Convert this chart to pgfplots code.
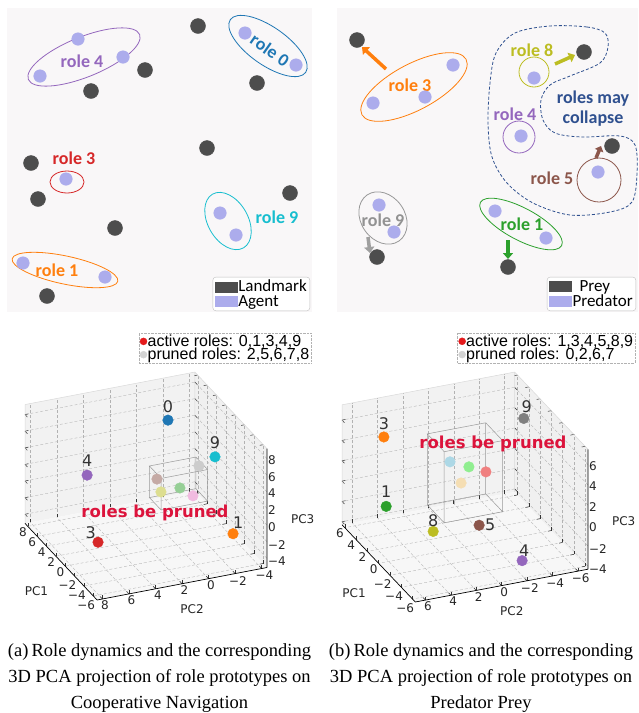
\documentclass[border=0pt]{standalone}
\usepackage{pgfplots}
\pgfplotsset{compat=1.18}
\usepackage{fontspec}
\setmainfont{Liberation Serif}
\newfontfamily\carlito{Carlito}
\newfontfamily\dejavu{DejaVu Sans}
\newfontfamily\arialf{Liberation Sans}
\usetikzlibrary{arrows.meta}

\definecolor{panelbg}{RGB}{249,247,248}
\definecolor{landmark}{RGB}{77,77,77}
\definecolor{agent}{RGB}{172,172,236}
\definecolor{tblue}{RGB}{31,119,180}
\definecolor{torange}{RGB}{255,127,14}
\definecolor{tgreen}{RGB}{44,160,44}
\definecolor{tred}{RGB}{214,39,40}
\definecolor{tpurple}{RGB}{148,103,189}
\definecolor{tbrown}{RGB}{140,86,75}
\definecolor{tpink}{RGB}{227,119,194}
\definecolor{tgray}{RGB}{127,127,127}
\definecolor{tolive}{RGB}{188,189,34}
\definecolor{tcyan}{RGB}{23,190,207}
\definecolor{navyd}{RGB}{47,80,143}
\definecolor{crimsonc}{RGB}{220,20,60}
\definecolor{lblue}{RGB}{173,216,230}
\definecolor{lgreen}{RGB}{144,238,144}
\definecolor{lcoral}{RGB}{240,128,128}
\definecolor{wheatc}{RGB}{245,222,179}
\definecolor{activered}{RGB}{228,26,28}
\definecolor{prunedgray}{RGB}{211,211,211}
\definecolor{txt}{RGB}{51,51,51}

\newcommand{\rolefont}{\carlito\bfseries\fontsize{18bp}{20bp}\selectfont}
\newcommand{\legfont}{\carlito\fontsize{17bp}{18bp}\selectfont}
\newcommand{\tickfont}{\dejavu\fontsize{12bp}{13bp}\selectfont}
\newcommand{\numfont}{\dejavu\fontsize{16bp}{17bp}\selectfont}
\newcommand{\prunefont}{\dejavu\bfseries\fontsize{16.5bp}{18bp}\selectfont}
\newcommand{\pcalegfont}{\arialf\fontsize{16bp}{17bp}\selectfont}
\newcommand{\capfont}{\fontsize{18.5bp}{26bp}\selectfont}

\newcommand{\wirebox}[6]{%
 \draw[black!40, line width=0.5bp]
  (axis cs:#1,#3,#5) -- (axis cs:#2,#3,#5) -- (axis cs:#2,#4,#5) -- (axis cs:#1,#4,#5) -- cycle
  (axis cs:#1,#3,#6) -- (axis cs:#2,#3,#6) -- (axis cs:#2,#4,#6) -- (axis cs:#1,#4,#6) -- cycle
  (axis cs:#1,#3,#5) -- (axis cs:#1,#3,#6) (axis cs:#2,#3,#5) -- (axis cs:#2,#3,#6)
  (axis cs:#2,#4,#5) -- (axis cs:#2,#4,#6) (axis cs:#1,#4,#5) -- (axis cs:#1,#4,#6);}

\pgfplotsset{
  toppanel/.style={
    scale only axis, height=304bp,
    y dir=reverse, axis lines=none, clip=false,
    ymin=8, ymax=312,
    legend cell align=left,
    legend style={draw=black!25, rounded corners=3bp, fill=white, font=\legfont,
      inner sep=2bp, nodes={inner sep=1bp}, row sep=0bp},
  },
  landmarks/.style={only marks, mark=*, mark size=7.5bp, color=landmark},
  agents/.style={only marks, mark=*, mark size=6.3bp, color=agent},
  pcabase/.style={
    scale only axis, view={247}{35}, clip=false, set layers,
    grid=major, major grid style={densely dashed, black!30, line width=0.35bp},
    axis line style={draw=none},
    tick style={black!80, line width=0.5bp}, major tick length=3.5bp,
    xtick pos=left, ytick pos=left, ztick pos=right,
    ticklabel style={font=\tickfont, text=black!85, inner sep=1bp},
    label style={font=\tickfont, text=black!85},
    every axis z label/.style={at={(ticklabel cs:0.5)}, anchor=near ticklabel,
      font=\tickfont, text=black!85},
    xlabel={PC1}, ylabel={PC2}, zlabel={PC3},
    zticklabel pos=right,
    legend cell align=left,
    legend style={draw=black!30, densely dotted, fill=white, font=\pcalegfont,
      inner sep=1bp, nodes={inner sep=0.6bp}, row sep=-1bp},
    every node near coord/.append style={font=\numfont, text=txt, inner sep=0pt},
  },
  pt/.style={only marks, mark=*, mark size=5.3bp, color=#1},
  pane/.style={draw=none, fill=#1, forget plot, on layer=axis background},
}

\begin{document}
\begin{tikzpicture}

% ---------------- top-left: Cooperative Navigation ----------------
\begin{axis}[toppanel, at={(7bp,-8bp)}, anchor=north west, width=305bp, xmin=7, xmax=312,
  legend style={at={(axis cs:310,311)}, anchor=south east}]
\fill[panelbg] (rel axis cs:0,0) rectangle (rel axis cs:1,1);
\addplot[landmarks, legend image code/.code={\fill[landmark,sharp corners] (0bp,-5bp) rectangle (22bp,5bp);}]
  coordinates {(198,26) (145,70) (91,91) (257,83) (207,148) (31,163) (38,199) (115,228) (290,193) (47,296)};
\addlegendentry{Landmark}
\addplot[agents, legend image code/.code={\fill[agent,sharp corners] (0bp,-5bp) rectangle (22bp,5bp);}]
  coordinates {(78,39) (123,57) (40,76) (245,33) (296,65) (66,179) (220,213) (236,235) (23,263) (105,277)};
\addlegendentry{Agent}
\draw[tpurple, line width=0.8bp, rotate around={22:(axis cs:84,57)}] (axis cs:84,57) ellipse [x radius=60bp, y radius=20bp];
\draw[tblue, line width=0.8bp, rotate around={-35:(axis cs:268,46)}] (axis cs:268,46) ellipse [x radius=46bp, y radius=19bp];
\draw[tred, line width=0.8bp] (axis cs:67,182) ellipse [x radius=17bp, y radius=11bp];
\draw[tcyan, line width=0.8bp, rotate around={-60:(axis cs:228,221)}] (axis cs:228,221) ellipse [x radius=31bp, y radius=20bp];
\draw[torange, line width=0.8bp, rotate around={-12:(axis cs:65,270)}] (axis cs:65,270) ellipse [x radius=54bp, y radius=14bp];
\node[font=\rolefont, text=tpurple] at (axis cs:82,61) {role 4};
\node[font=\rolefont, text=tblue, rotate=-35, inner sep=0pt] at (axis cs:270,50) {role 0};
\node[font=\rolefont, text=tred] at (axis cs:74,158) {role 3};
\node[font=\rolefont, text=tcyan] at (axis cs:277,217) {role 9};
\node[font=\rolefont, text=torange] at (axis cs:57,270) {role 1};
\end{axis}

% ---------------- top-right: Predator Prey ----------------
\begin{axis}[toppanel, at={(337bp,-8bp)}, anchor=north west, width=301bp, xmin=337, xmax=638,
  legend style={at={(axis cs:636,311)}, anchor=south east}]
\fill[panelbg] (rel axis cs:0,0) rectangle (rel axis cs:1,1);
\addplot[landmarks, legend image code/.code={\fill[landmark,sharp corners] (0bp,-5bp) rectangle (22bp,5bp);}]
  coordinates {(357,40) (584,52) (612,146) (377,257) (508,267)};
\addlegendentry{\hspace{7bp}Prey}
\addplot[agents, legend image code/.code={\fill[agent,sharp corners] (0bp,-5bp) rectangle (22bp,5bp);}]
  coordinates {(453,65) (425,97) (373,103) (534,78) (521,136) (598,172) (379,205) (394,232) (495,211) (546,238)};
\addlegendentry{Predator}
\draw[navyd, line width=0.8bp, dash pattern=on 3bp off 2bp] plot[smooth cycle, tension=0.55] coordinates {
  (axis cs:550,26) (axis cs:587,27) (axis cs:605,33) (axis cs:608,47) (axis cs:600,63) (axis cs:570,76)
  (axis cs:550,85) (axis cs:541,100) (axis cs:543,120) (axis cs:555,133) (axis cs:582,137) (axis cs:620,136)
  (axis cs:635,145) (axis cs:637,173) (axis cs:632,202) (axis cs:610,212) (axis cs:570,215) (axis cs:533,203)
  (axis cs:507,183) (axis cs:492,157) (axis cs:488,123) (axis cs:490,83) (axis cs:496,53) (axis cs:515,33)};
\draw[torange, line width=0.8bp, rotate around={28:(axis cs:414,87)}] (axis cs:414,87) ellipse [x radius=59bp, y radius=23bp];
\draw[tolive, line width=0.8bp] (axis cs:534,72) circle [radius=15bp];
\draw[tpurple, line width=0.8bp] (axis cs:519,137) circle [radius=16bp];
\draw[tbrown, line width=0.8bp] (axis cs:599,180) circle [radius=22bp];
\draw[tgray!80, line width=0.8bp, rotate around={-55:(axis cs:383,218)}] (axis cs:383,218) ellipse [x radius=28bp, y radius=22bp];
\draw[tgreen, line width=0.8bp, rotate around={-28:(axis cs:521,224)}] (axis cs:521,224) ellipse [x radius=46bp, y radius=16bp];
\draw[torange, line width=3.5bp, -{Triangle[length=6bp, width=10bp]}] (axis cs:386,69) -- (axis cs:362,47);
\draw[tolive, line width=3.5bp, -{Triangle[length=6bp, width=10bp]}] (axis cs:555,64) -- (axis cs:575,55);
\draw[tbrown, line width=3.5bp, -{Triangle[length=5bp, width=9bp]}] (axis cs:596,158) -- (axis cs:601,146);
\draw[tgray!75, line width=3.5bp, -{Triangle[length=6bp, width=10bp]}] (axis cs:368,237) -- (axis cs:370,253);
\draw[tgreen, line width=3.5bp, -{Triangle[length=6bp, width=10bp]}] (axis cs:508,240) -- (axis cs:508,259);
\node[font=\rolefont, text=torange] at (axis cs:410,85) {role 3};
\node[font=\rolefont, text=tolive] at (axis cs:532,50) {role 8};
\node[font=\rolefont, text=tpurple] at (axis cs:515,114) {role 4};
\node[font=\rolefont, text=navyd, align=center] at (axis cs:593,109) {roles may\\collapse};
\node[font=\rolefont, text=tbrown] at (axis cs:552,178) {role 5};
\node[font=\rolefont, text=tgray!85] at (axis cs:383,220) {role 9};
\node[font=\rolefont, text=tgreen] at (axis cs:522,224) {role 1};
\end{axis}

% ---------------- bottom-left: PCA (Cooperative Navigation) ----------------
\begin{axis}[pcabase, at={(25bp,-600bp)}, anchor=south west, width=242bp, height=228bp,
  xmin=-6.8, xmax=8.6, ymin=-4.4, ymax=8.4, zmin=-5.1, zmax=9.2,
  xtick={-6,-4,...,8}, xticklabels={−6,−4,−2,0,2,4,6,8},
  ytick={-4,-2,...,8}, yticklabels={−4,−2,0,2,4,6,8},
  ztick={-4,-2,...,8}, zticklabels={−4,−2,0,2,4,6,8},
  legend style={at={(axis description cs:1.182,1.171)}, anchor=north east}]
\addlegendimage{only marks, mark=*, mark size=3.5bp, activered, mark options={solid}}
\addlegendentry{active roles: 0,1,3,4,9}
\addlegendimage{only marks, mark=*, mark size=3.5bp, prunedgray, mark options={solid}}
\addlegendentry{pruned roles: 2,5,6,7,8}
\addplot3[pane=black!5] coordinates {(8.6,-4.4,-5.1) (8.6,8.4,-5.1) (8.6,8.4,9.2) (8.6,-4.4,9.2) (8.6,-4.4,-5.1)};
\addplot3[pane=black!6] coordinates {(-6.8,-4.4,-5.1) (8.6,-4.4,-5.1) (8.6,-4.4,9.2) (-6.8,-4.4,9.2) (-6.8,-4.4,-5.1)};
\addplot3[pane=black!3] coordinates {(-6.8,-4.4,-5.1) (8.6,-4.4,-5.1) (8.6,8.4,-5.1) (-6.8,8.4,-5.1) (-6.8,-4.4,-5.1)};
\draw[black!15, line width=0.5bp] (axis cs:8.6,8.4,-5.1) -- (axis cs:8.6,8.4,9.2) -- (axis cs:8.6,-4.4,9.2) -- (axis cs:-6.8,-4.4,9.2)
  (axis cs:8.6,-4.4,-5.1) -- (axis cs:8.6,-4.4,9.2);
\draw[black, line width=0.7bp] (axis cs:-6.8,8.4,-5.1) -- (axis cs:8.6,8.4,-5.1)
  (axis cs:-6.8,-4.4,-5.1) -- (axis cs:-6.8,8.4,-5.1) (axis cs:-6.8,-4.4,-5.1) -- (axis cs:-6.8,-4.4,9.2);
\wirebox{0.5}{3}{-2.5}{1.0}{-0.9}{2.9}
\addplot3[pt=tgray!40] coordinates {(1.67,-2.26,2.71)};
\addplot3[pt=tbrown!50] coordinates {(1.67,0.90,2.09)};
\addplot3[pt=tolive!50] coordinates {(1.67,0.60,0.45)};
\addplot3[pt=tgreen!50] coordinates {(1.67,-0.83,0.49)};
\addplot3[pt=tpink!50] coordinates {(1.67,-1.81,-0.75)};
\addplot3[pt=tblue, nodes near coords={0}, nodes near coords style={anchor=south, yshift=7.2bp}] coordinates {(7.06,-1.83,5.12)};
\addplot3[pt=tcyan, nodes near coords={9}, nodes near coords style={anchor=south, yshift=8.2bp}] coordinates {(0.9,-3.2,3.97)};
\addplot3[pt=tpurple, nodes near coords={4}, nodes near coords style={anchor=south, yshift=8.2bp}] coordinates {(3.98,5.35,2.54)};
\addplot3[pt=tred, nodes near coords={3}, nodes near coords style={anchor=south east, xshift=-2bp, yshift=3.2bp}] coordinates {(-2.18,6.70,-1.43)};
\addplot3[pt=torange, nodes near coords={1}, nodes near coords style={anchor=south west, yshift=5.2bp}] coordinates {(-3.72,-2.93,-2.43)};
\end{axis}

% ---------------- bottom-right: PCA (Predator Prey) ----------------
\begin{axis}[pcabase, at={(342bp,-602bp)}, anchor=south west, width=246bp, height=230bp,
  xmin=-6.5, xmax=6.5, ymin=-6.8, ymax=6.8, zmin=-4.3, zmax=7.5,
  xtick={-6,-4,...,6}, xticklabels={−6,−4,−2,0,2,4,6},
  ytick={-6,-4,...,6}, yticklabels={−6,−4,−2,0,2,4,6},
  ztick={-4,-2,...,6}, zticklabels={−4,−2,0,2,4,6},
  legend style={at={(axis description cs:1.191,1.170)}, anchor=north east}]
\addlegendimage{only marks, mark=*, mark size=3.5bp, activered, mark options={solid}}
\addlegendentry{active roles: 1,3,4,5,8,9}
\addlegendimage{only marks, mark=*, mark size=3.5bp, prunedgray, mark options={solid}}
\addlegendentry{pruned roles: 0,2,6,7}
\addplot3[pane=black!5] coordinates {(6.5,-6.8,-4.3) (6.5,6.8,-4.3) (6.5,6.8,7.5) (6.5,-6.8,7.5) (6.5,-6.8,-4.3)};
\addplot3[pane=black!6] coordinates {(-6.5,-6.8,-4.3) (6.5,-6.8,-4.3) (6.5,-6.8,7.5) (-6.5,-6.8,7.5) (-6.5,-6.8,-4.3)};
\addplot3[pane=black!3] coordinates {(-6.5,-6.8,-4.3) (6.5,-6.8,-4.3) (6.5,6.8,-4.3) (-6.5,6.8,-4.3) (-6.5,-6.8,-4.3)};
\draw[black!15, line width=0.5bp] (axis cs:6.5,6.8,-4.3) -- (axis cs:6.5,6.8,7.5) -- (axis cs:6.5,-6.8,7.5) -- (axis cs:-6.5,-6.8,7.5)
  (axis cs:6.5,-6.8,-4.3) -- (axis cs:6.5,-6.8,7.5);
\draw[black, line width=0.7bp] (axis cs:-6.5,6.8,-4.3) -- (axis cs:6.5,6.8,-4.3)
  (axis cs:-6.5,-6.8,-4.3) -- (axis cs:-6.5,6.8,-4.3) (axis cs:-6.5,-6.8,-4.3) -- (axis cs:-6.5,-6.8,7.5);
\wirebox{-1.5}{1.5}{-2.3}{2.3}{-0.5}{6.5}
\addplot3[pt=lblue] coordinates {(0,1.18,4.36)};
\addplot3[pt=lgreen] coordinates {(0,-0.31,3.51)};
\addplot3[pt=lcoral] coordinates {(0,-1.65,2.70)};
\addplot3[pt=wheatc] coordinates {(0,0.31,2.07)};
\addplot3[pt=torange, nodes near coords={3}, nodes near coords style={anchor=south, yshift=7.2bp}] coordinates {(4.55,4.37,4.90)};
\addplot3[pt=tgray, nodes near coords={9}, nodes near coords style={anchor=south, xshift=3bp, yshift=5.2bp}] coordinates {(3.9,-6.36,4.56)};
\addplot3[pt=tgreen, nodes near coords={1}, nodes near coords style={anchor=south, yshift=8.2bp}] coordinates {(1.3,5.63,0.27)};
\addplot3[pt=tolive, nodes near coords={8}, nodes near coords style={anchor=south, yshift=4bp}] coordinates {(-2.6,3.66,-0.38)};
\addplot3[pt=tbrown, nodes near coords={5}, nodes near coords style={anchor=west, xshift=5.9bp}] coordinates {(-2.6,0.04,-0.63)};
\addplot3[pt=tpurple, nodes near coords={4}, nodes near coords style={anchor=south, xshift=2bp, yshift=4.2bp}] coordinates {(-5.2,-2.19,-3.12)};
\end{axis}

\node[font=\prunefont, text=crimsonc] at (155bp,-513bp) {roles be pruned};
\node[font=\prunefont, text=crimsonc] at (493bp,-444bp) {roles be pruned};

\node[font=\capfont, align=center] at (159.5bp,-678bp) {(a)\,Role dynamics and the corresponding\\3D PCA projection of role prototypes on\\Cooperative Navigation};
\node[font=\capfont, align=center] at (481bp,-678bp) {(b)\,Role dynamics and the corresponding\\3D PCA projection of role prototypes on\\Predator Prey};

\pgfresetboundingbox
\path[use as bounding box] (0bp,0bp) rectangle (639bp,-713bp);
\end{tikzpicture}
\end{document}
